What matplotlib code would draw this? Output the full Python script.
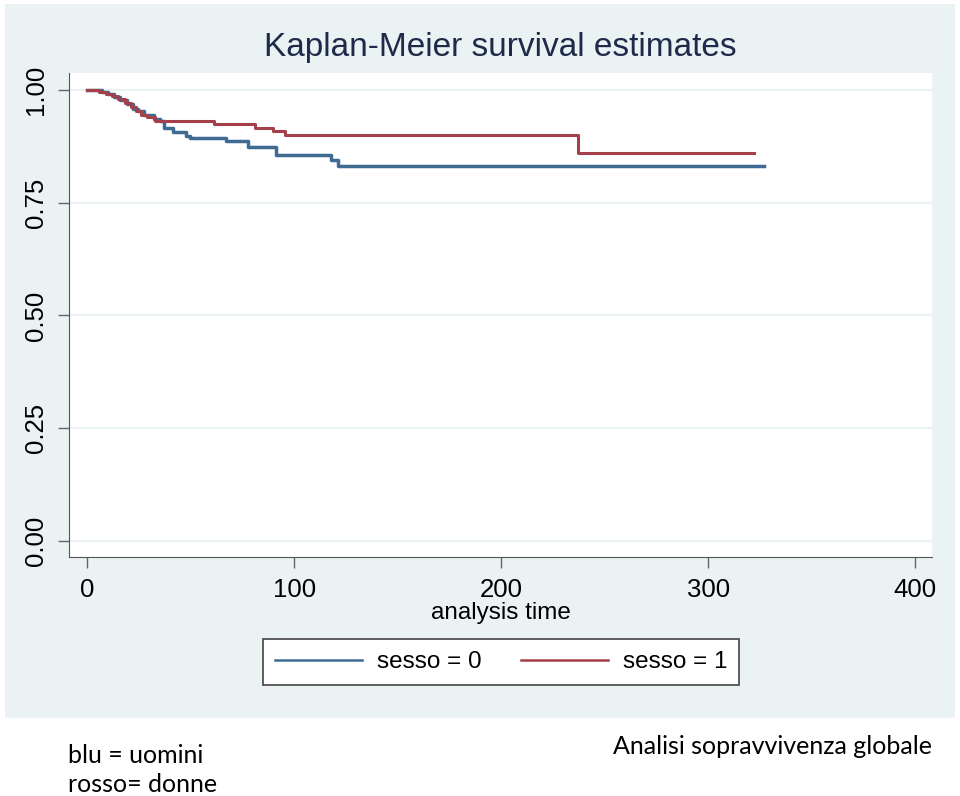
import matplotlib.pyplot as plt
from matplotlib.patches import Rectangle

# stime Kaplan-Meier
t_uomini = [0, 7, 10, 13, 16, 19.5, 22, 24.5, 27.5, 32.5, 35, 37, 41.5, 48, 49.5, 67, 77.5, 91.3, 118, 121]
s_uomini = [1.0, 0.995, 0.990, 0.984, 0.978, 0.968, 0.957, 0.952, 0.943, 0.936, 0.931, 0.915, 0.906,
            0.898, 0.892, 0.886, 0.874, 0.856, 0.844, 0.832]
fine_uomini = 327

t_donne = [0, 6, 9, 12, 15, 18.5, 21, 23.5, 26, 29, 33, 61.5, 81, 90, 95.5, 237]
s_donne = [1.0, 0.996, 0.991, 0.986, 0.979, 0.970, 0.961, 0.952, 0.945, 0.940, 0.931, 0.924,
           0.915, 0.909, 0.900, 0.860]
fine_donne = 322

xticks = [0, 100, 200, 300, 400]
yticks = [0.0, 0.25, 0.5, 0.75, 1.0]

plt.rcParams['font.family'] = ['Liberation Sans', 'DejaVu Sans']

fig = plt.figure(figsize=(9.6, 7.96), dpi=100)
fig.patch.set_facecolor('white')

# sfondo stile Stata
fig.patches.append(Rectangle((5 / 960, 1 - 718 / 796), 950 / 960, 714 / 796,
                             transform=fig.transFigure, facecolor='#eaf2f3',
                             edgecolor='none', zorder=-10))

ax = fig.add_axes([69 / 960, 1 - 557 / 796, 863 / 960, 484 / 796])
ax.set_facecolor('white')

for yv in yticks:
    ax.axhline(yv, color='#eaf2f3', lw=1.5, zorder=1)

ax.step(t_uomini + [fine_uomini], s_uomini + [s_uomini[-1]], where='post',
        color='#3f6a91', lw=2.5, label='sesso = 0', zorder=3)
ax.step(t_donne + [fine_donne], s_donne + [s_donne[-1]], where='post',
        color='#a4404a', lw=2.2, label='sesso = 1', zorder=3)

ax.set_xlim(-8.7, 408)
ax.set_ylim(-0.035, 1.037)
ax.set_xticks(xticks)
ax.set_yticks(yticks)
ax.set_yticklabels(['0.00', '0.25', '0.50', '0.75', '1.00'], rotation=90, va='center')
ax.tick_params(direction='out', length=8, width=1, color='#666666', labelsize=18.5, pad=7)

for side in ['top', 'right']:
    ax.spines[side].set_visible(False)
for side in ['left', 'bottom']:
    ax.spines[side].set_color('#555555')

ax.set_xlabel('analysis time', fontsize=17.5, labelpad=0)
ax.set_title('Kaplan-Meier survival estimates', fontsize=24, color='#1e2a4a', pad=12)

leg = ax.legend(loc='center', bbox_to_anchor=(501 / 960, 1 - 662 / 796),
                bbox_transform=fig.transFigure, ncol=2, fontsize=17.5, frameon=True,
                fancybox=False, edgecolor='#444444', facecolor='white', framealpha=1,
                handlelength=3.6, handletextpad=0.6, columnspacing=1.6, borderpad=0.5)
leg.get_frame().set_linewidth(1.2)
for line in leg.get_lines():
    line.set_linewidth(1.8)

fig.text(68 / 960, 1 - 763 / 796, 'blu = uomini', fontsize=18, family='Lato', va='baseline')
fig.text(68 / 960, 1 - 792 / 796, 'rosso= donne', fontsize=18, family='Lato', va='baseline')
fig.text(932 / 960, 1 - 754 / 796, 'Analisi sopravvivenza globale', fontsize=18,
         family='Lato', ha='right', va='baseline')

fig.savefig('out.png', dpi=100)
